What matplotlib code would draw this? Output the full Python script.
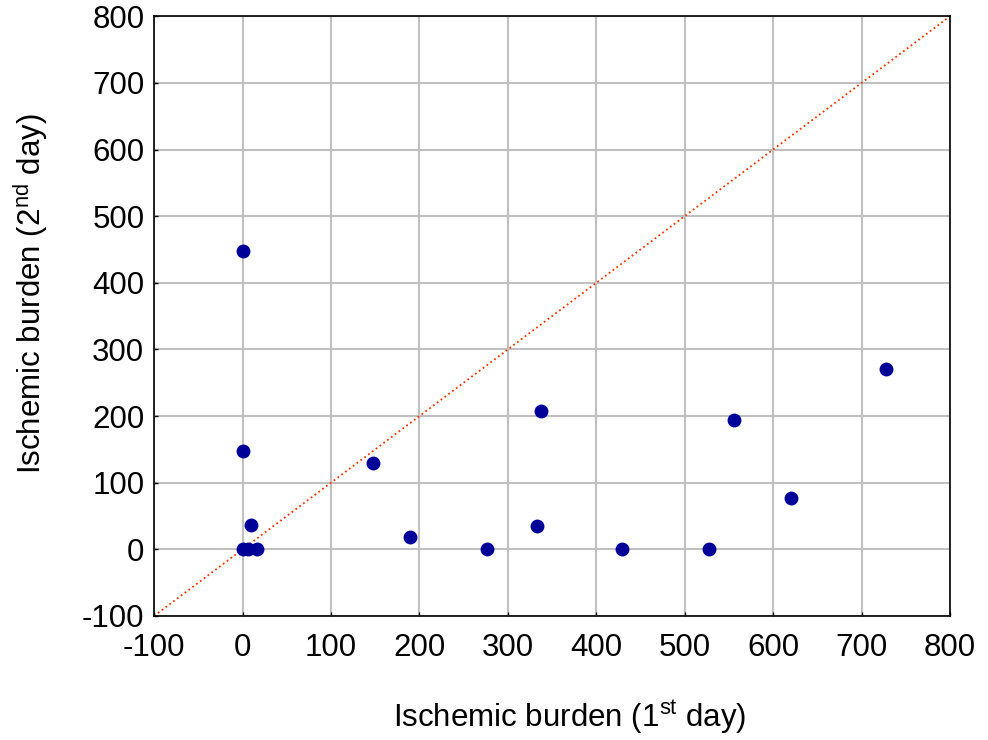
import matplotlib
matplotlib.use("Agg")
import matplotlib.pyplot as plt

plt.rcParams["font.family"] = ["Liberation Sans", "DejaVu Sans"]
plt.rcParams["mathtext.fontset"] = "custom"
plt.rcParams["mathtext.rm"] = "Liberation Sans"
plt.rcParams["axes.unicode_minus"] = False

# Ischemic burden per patient, day 1 vs day 2
burden_day1 = [0, 0, 10, 0, 6, 16, 148, 189, 277, 333, 338, 429, 528, 556, 620, 728]
burden_day2 = [447, 147, 37, 0, 0, 0, 129, 19, 0, 35, 207, 0, 0, 194, 77, 271]

ticks = [-100, 0, 100, 200, 300, 400, 500, 600, 700, 800]

fig = plt.figure(figsize=(9.88, 7.4), dpi=100)
ax = fig.add_axes([0.156, 0.1676, 0.8055, 0.8104])

# line of identity
ax.plot([-100, 800], [-100, 800], linestyle=":", color="#ff3300", linewidth=1.3, zorder=2)

ax.plot(burden_day1, burden_day2, "o", color="#000099", markersize=10,
        markeredgewidth=0, zorder=3)

ax.set_xlim(-100, 800)
ax.set_ylim(-100, 800)
ax.set_xticks(ticks)
ax.set_yticks(ticks)
ax.grid(True, color="#c0c0c0", linewidth=1.5)
ax.set_axisbelow(True)
ax.tick_params(direction="in", length=3, width=1, labelsize=22.5)
ax.tick_params(axis="x", pad=12)
ax.tick_params(axis="y", pad=7)
for s in ax.spines.values():
    s.set_linewidth(1.2)

ax.set_xlabel(r"Ischemic burden (1$^{\mathrm{st}}$ day)", fontsize=22.5, va="center")
ax.set_ylabel(r"Ischemic burden (2$^{\mathrm{nd}}$ day)", fontsize=22.5, va="center")
ax.xaxis.set_label_coords(0.522, -0.168)
ax.yaxis.set_label_coords(-0.155, 0.537)

fig.savefig("out.png", dpi=100)
